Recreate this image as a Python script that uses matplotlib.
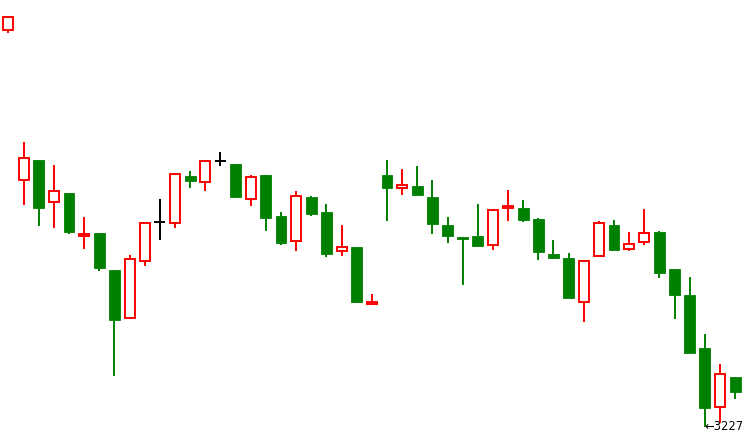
import matplotlib
matplotlib.use("Agg")
import matplotlib.pyplot as plt
from matplotlib.patches import Rectangle

opens = [3623.4, 3473.4, 3493.7, 3451.4, 3460.7, 3417.4, 3420.7, 3383.7, 3335.4, 3392.4,
         3431.4, 3430.4, 3477.7, 3472.0, 3492.7, 3489.7, 3454.4, 3478.7, 3437.7, 3412.4,
         3456.7, 3441.7, 3402.4, 3406.7, 3349.4, 3478.7, 3465.4, 3467.7, 3456.7, 3428.7,
         3416.4, 3417.7, 3408.4, 3446.0, 3445.7, 3434.7, 3399.7, 3395.7, 3351.4, 3397.4,
         3428.7, 3404.4, 3411.4, 3421.7, 3384.7, 3358.7, 3305.7, 3246.4, 3276.7]
closes = [3636.7, 3495.4, 3446.0, 3462.4, 3422.0, 3419.4, 3386.0, 3334.0, 3394.4, 3430.4,
          3431.4, 3479.4, 3473.0, 3492.4, 3492.7, 3457.0, 3476.4, 3436.0, 3411.0, 3457.4,
          3440.0, 3400.0, 3406.4, 3352.0, 3351.4, 3466.0, 3468.4, 3459.0, 3430.0, 3418.0,
          3415.0, 3408.0, 3443.4, 3447.7, 3434.0, 3402.0, 3396.0, 3355.4, 3392.7, 3430.4,
          3404.0, 3409.7, 3420.7, 3381.0, 3359.0, 3301.0, 3246.0, 3279.7, 3261.4]
highs = [3638.0, 3511.7, 3493.7, 3488.7, 3460.7, 3436.7, 3420.7, 3383.7, 3398.7, 3430.4,
         3454.7, 3479.4, 3482.7, 3492.4, 3501.7, 3489.7, 3478.7, 3478.7, 3441.7, 3462.7,
         3457.7, 3449.7, 3428.7, 3406.7, 3359.7, 3493.7, 3484.7, 3487.7, 3473.7, 3436.7,
         3416.4, 3449.7, 3443.4, 3463.7, 3453.7, 3435.7, 3413.7, 3400.7, 3393.7, 3432.4,
         3433.7, 3421.7, 3444.7, 3422.7, 3384.7, 3376.7, 3319.7, 3289.7, 3276.7]
lows = [3621.0, 3449.0, 3428.0, 3426.0, 3420.0, 3405.0, 3383.0, 3278.0, 3335.4, 3388.0,
        3414.0, 3426.0, 3466.0, 3463.0, 3488.0, 3457.0, 3448.0, 3423.0, 3409.0, 3403.0,
        3438.0, 3397.0, 3398.0, 3350.7, 3349.4, 3433.0, 3459.0, 3459.0, 3420.0, 3411.0,
        3369.0, 3408.0, 3404.0, 3433.0, 3432.0, 3394.0, 3395.0, 3355.4, 3332.0, 3397.4,
        3404.0, 3403.0, 3409.0, 3376.0, 3335.0, 3301.0, 3227.0, 3231.0, 3255.0]

low_label = "←3227"

UP = "#ff0000"
DOWN = "#008000"
DOJI = "#000000"

fig = plt.figure(figsize=(7.45, 4.47), dpi=100)
ax = fig.add_axes([0, 0, 1, 1])
ax.set_axis_off()

lw = 1.4
for i, (o, c, h, l) in enumerate(zip(opens, closes, highs, lows)):
    top, bot = max(o, c), min(o, c)
    if c > o:
        ax.add_patch(Rectangle((i - 0.33, bot), 0.66, top - bot, facecolor="white",
                               edgecolor=UP, linewidth=lw, zorder=3))
        if h > top:
            ax.plot([i, i], [top, h], color=UP, lw=lw, solid_capstyle="butt", zorder=2)
        if l < bot:
            ax.plot([i, i], [l, bot], color=UP, lw=lw, solid_capstyle="butt", zorder=2)
    elif c < o:
        ax.plot([i, i], [l, h], color=DOWN, lw=lw, solid_capstyle="butt", zorder=2)
        ax.add_patch(Rectangle((i - 0.36, bot), 0.72, top - bot, facecolor=DOWN,
                               edgecolor=DOWN, linewidth=0.6, zorder=3))
    else:
        ax.plot([i, i], [l, h], color=DOJI, lw=lw, solid_capstyle="butt", zorder=2)
        ax.plot([i - 0.36, i + 0.36], [o, o], color=DOJI, lw=lw, solid_capstyle="butt", zorder=3)

imin = lows.index(min(lows))
ax.text(imin - 0.05, min(lows), low_label, ha="left", va="center", fontsize=8.3,
        family="DejaVu Sans", color="black", zorder=5)

ax.set_xlim(-0.561, 48.65)
ax.set_ylim(3206.7, 3653.7)

fig.savefig("out.png", dpi=100, facecolor="white")
